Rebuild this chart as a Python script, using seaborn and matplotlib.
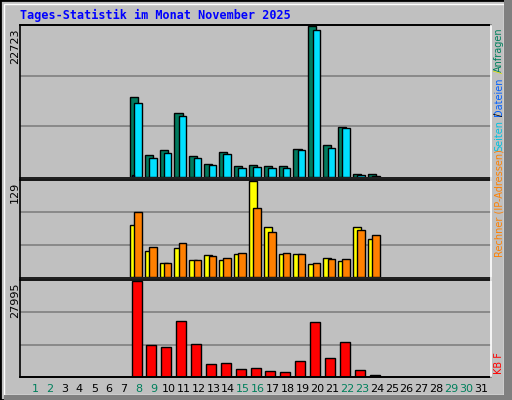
import numpy as np
import pandas as pd
import matplotlib
matplotlib.use("Agg")
import matplotlib.pyplot as plt
import seaborn as sns

days = np.arange(8, 25)
anfragen = [12086, 3300, 4070, 9620, 3190, 1910, 3760, 1600, 1760, 1600, 1600, 4220, 22723, 4840, 7460, 520, 420]
dateien = [11160, 2840, 3600, 9160, 2840, 1760, 3450, 1300, 1450, 1300, 1300, 4070, 22110, 4380, 7310, 360, 200]
seiten = [300, 0, 0, 0, 0, 0, 0, 0, 0, 0, 0, 0, 0, 0, 0, 0, 0]
besuche = [70.1, 35.1, 18.2, 39.3, 22.4, 29.4, 22.4, 30.8, 129, 67.3, 30.8, 30.8, 16.8, 25.2, 21, 67.3, 50.5]
rechner = [86.9, 40.7, 18.2, 46.3, 22.4, 28, 25.2, 32.2, 92.5, 60.3, 32.2, 30.8, 18.2, 23.8, 23.8, 63.1, 56.1]
kbf = [27995, 9298, 8685, 16350, 9605, 3780, 4087, 2248, 2554, 1635, 1328, 4700, 16040, 5620, 10217, 1941, 715]
day_labels = [str(d) for d in range(1, 32)]
weekend = {1, 2, 8, 9, 15, 16, 22, 23, 29, 30}

sns.set_theme(style="white")
plt.rcParams['font.family'] = ['DejaVu Sans']
BG = "#c0c0c0"
W, H = 512, 400
fig = plt.figure(figsize=(5.12, 4.0), dpi=100, facecolor=BG)

def box(x0, y0, x1, y1):
    return [x0 / W, 1 - y1 / H, (x1 - x0) / W, (y1 - y0) / H]

XMIN, XMAX = 0.0, 31.67

def panel(y0, y1, ymax):
    ax = fig.add_axes(box(20, y0, 491, y1))
    ax.set_facecolor(BG)
    ax.set_xlim(XMIN, XMAX)
    ax.set_ylim(0, ymax)
    for v in (ymax / 3, 2 * ymax / 3):
        ax.axhline(v, color="#808080", lw=1.2, zorder=0)
    ax.set_xticks([]); ax.set_yticks([])
    for s in ax.spines.values():
        s.set_visible(False)
    ax.spines['top'].set_visible(True); ax.spines['top'].set_color('black')
    return ax

def bars(ax, off, vals, color, width):
    df = pd.DataFrame({"x": days + off, "y": vals})
    df = df[df.y > 0]
    sns.barplot(data=df, x="x", y="y", native_scale=True, width=width, color=color,
                saturation=1, edgecolor="black", linewidth=1.0, ax=ax)
    ax.set_xlim(XMIN, XMAX)
    ax.set_xlabel(""); ax.set_ylabel("")

ax1 = panel(25, 177, 22723 * 1.005)
bars(ax1, -0.34, anfragen, "#007a5e", 0.55)
bars(ax1, -0.07, dateien, "#00e0ff", 0.5)
bars(ax1, -0.38, seiten, "#0000c0", 0.15)

ax2 = panel(180, 277, 129 * 1.01)
bars(ax2, -0.34, besuche, "#ffff00", 0.55)
bars(ax2, -0.07, rechner, "#ff8000", 0.5)

ax3 = panel(280, 377, 27995 * 1.01)
bars(ax3, -0.16, kbf, "#ff0000", 0.67)
ax3.spines['bottom'].set_visible(True); ax3.spines['bottom'].set_color('black')

for y in (25, 178, 278, 377):
    fig.add_artist(plt.Line2D([20 / W, 491 / W], [1 - y / H] * 2, color="black", lw=1.2))
fig.add_artist(plt.Line2D([20 / W] * 2, [1 - 25 / H, 1 - 377 / H], color="black", lw=1.2))
fig.add_artist(plt.Line2D([491 / W] * 2, [1 - 25 / H, 1 - 377 / H], color="white", lw=1.2))
fig.add_artist(plt.Rectangle((0, 0), 1, 1, transform=fig.transFigure, fill=False, ec="black", lw=2))
fig.add_artist(plt.Rectangle((4 / W, 5 / H), 500 / W, 391 / H, transform=fig.transFigure, fill=False, ec="white", lw=1))
fig.add_artist(plt.Rectangle((4 / W, 0), 500 / W, 5 / H, transform=fig.transFigure, color="#808080", lw=0))
fig.add_artist(plt.Rectangle((504 / W, 0), 8 / W, 1, transform=fig.transFigure, color="#808080", lw=0))

fig.text(20 / W, 1 - 15 / H, "Tages-Statistik im Monat November 2025", color="#0000ff",
         fontsize=8.5, fontweight="bold", family="DejaVu Sans Mono", va="center", ha="left")

for y, t in ((28, "22723"), (182, "129"), (282, "27995")):
    fig.text(15 / W, 1 - y / H, t, rotation=90, fontsize=8, ha="center", va="top", color="black")

for i, lab in enumerate(day_labels):
    d = i + 1
    x = 20 + (d - XMIN) / (XMAX - XMIN) * 471
    fig.text(x / W, 1 - 389 / H, lab, fontsize=8, ha="center", va="center",
             color="#00805c" if d in weekend else "black")

rx = 499 / W
fs = 7
fig.text(rx, 1 - 27 / H, "Anfragen", rotation=90, fontsize=fs, ha="center", va="top", color="#00805c")
fig.text(rx, 1 - 70 / H, "/", rotation=90, fontsize=fs, ha="center", va="top", color="#e0e000")
fig.text(rx, 1 - 77 / H, "Dateien", rotation=90, fontsize=fs, ha="center", va="top", color="#0060ff")
fig.text(rx, 1 - 113 / H, "/", rotation=90, fontsize=fs, ha="center", va="top", color="black")
fig.text(rx, 1 - 120 / H, "Seiten", rotation=90, fontsize=fs, ha="center", va="top", color="#00c0e0")
fig.text(rx, 1 - 257 / H, "Rechner (IP-Adressen)", rotation=90, fontsize=fs, ha="center", va="bottom", color="#ff8000")
fig.text(rx, 1 - 374 / H, "KB F", rotation=90, fontsize=fs, ha="center", va="bottom", color="#ff0000")

fig.savefig("out.png", dpi=100, facecolor=BG)
